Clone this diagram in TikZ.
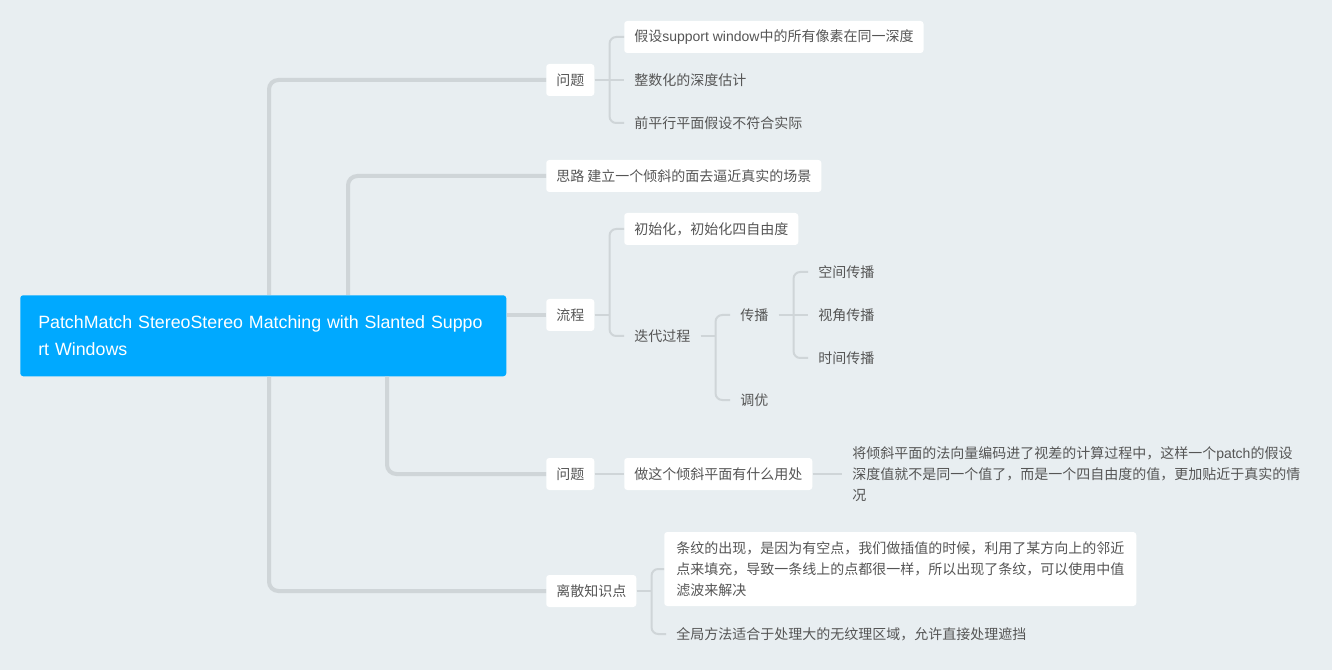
\documentclass[tikz,border=0pt]{standalone}
\usepackage{fontspec}
\setmainfont{Noto Sans CJK SC}
\newfontfamily\latinfont{Liberation Sans}
\definecolor{canvas}{RGB}{232,238,241}
\definecolor{branch}{RGB}{207,213,216}
\definecolor{rootblue}{RGB}{0,169,255}
\definecolor{txt}{RGB}{85,85,85}

\begin{document}
\begin{tikzpicture}[
    x=0.75pt, y=-0.75pt,
    every node/.style={font=\fontsize{10.5}{15.75}\selectfont, text=txt, align=left},
    root/.style={rectangle, fill=rootblue, rounded corners=2.25pt, text=white, font=\latinfont\fontsize{13.35}{20.25}\selectfont, text width=337.5pt, inner xsep=13.5pt, minimum height=60.75pt, anchor=north west},
    box/.style={rectangle, fill=white, rounded corners=2.25pt, inner xsep=7.5pt, minimum height=24pt, anchor=west},
    leaf/.style={rectangle, inner xsep=7.5pt, minimum height=24pt, anchor=west},
    trunk/.style={draw=branch, line width=3pt, rounded corners=7pt},
    twig/.style={draw=branch, line width=1.5pt, rounded corners=5pt}
]
\fill[canvas] (0,0) rectangle (1332,670);

% main topic and first level
\node[root] (root) at (20,295) {PatchMatch StereoStereo Matching with Slanted Suppo\\rt Windows};
\node[box] (prob)  at (546,80)  {问题};
\node[box] (idea)  at (546,176) {思路 建立一个倾斜的面去逼近真实的场景};
\node[box] (flow)  at (546,315) {流程};
\node[box] (prob2) at (546,474) {问题};
\node[box] (misc)  at (546,591) {离散知识点};

% second level and below
\node[box]  (assume)   at (624,37)  {假设{\latinfont support window}中的所有像素在同一深度};
\node[leaf] (intdepth) at (624,80)  {整数化的深度估计};
\node[leaf] (fronto)   at (624,123) {前平行平面假设不符合实际};
\node[box]  (init)     at (624,229) {初始化，初始化四自由度};
\node[leaf] (iter)     at (624,336) {迭代过程};
\node[leaf] (prop)     at (730,315) {传播};
\node[leaf] (refine)   at (730,400) {调优};
\node[leaf] (spatial)  at (808,272) {空间传播};
\node[leaf] (view)     at (808,315) {视角传播};
\node[leaf] (temporal) at (808,358) {时间传播};
\node[box]  (use)      at (624,474) {做这个倾斜平面有什么用处};
\node[leaf] (useans)   at (842,474) {将倾斜平面的法向量编码进了视差的计算过程中，这样一个{\latinfont patch}的假设\\深度值就不是同一个值了，而是一个四自由度的值，更加贴近于真实的情\\况};
\node[box, inner xsep=9pt, minimum height=55.5pt] (stripe) at (664,569) {条纹的出现，是因为有空点，我们做插值的时候，利用了某方向上的邻近\\点来填充，导致一条线上的点都很一样，所以出现了条纹，可以使用中值\\滤波来解决};
\node[leaf] (global)   at (666,634) {全局方法适合于处理大的无纹理区域，允许直接处理遮挡};

% trunks
\coordinate (ta) at (269,0);
\coordinate (tb) at (348,0);
\coordinate (tc) at (387,0);
\draw[trunk] (root.north -| ta) |- (prob.west);
\draw[trunk] (root.north -| tb) |- (idea.west);
\draw[trunk] (root.east |- flow.west) -- (flow.west);
\draw[trunk] (root.south -| tc) |- (prob2.west);
\draw[trunk] (root.south -| ta) |- (misc.west);

% twigs
\draw[twig] (prob.east) -- ++(15,0) coordinate (jp);
\draw[twig] (assume.west) -| (jp) |- (fronto.west);
\draw[twig] (jp) -- (intdepth.west);
\draw[twig] (flow.east) -- ++(15,0) coordinate (jf);
\draw[twig] (init.west) -| (jf) |- (iter.west);
\draw[twig] (iter.east) -- ++(15,0) coordinate (ji);
\draw[twig] (prop.west) -| (ji) |- (refine.west);
\draw[twig] (prop.east) -- ++(15,0) coordinate (jq);
\draw[twig] (spatial.west) -| (jq) |- (temporal.west);
\draw[twig] (jq) -- (view.west);
\draw[twig] (prob2.east) -- (use.west);
\draw[twig] (use.east) -- (useans.west);
\draw[twig] (misc.east) -- ++(15,0) coordinate (jm);
\draw[twig] (stripe.west) -| (jm) |- (global.west);
\end{tikzpicture}
\end{document}
